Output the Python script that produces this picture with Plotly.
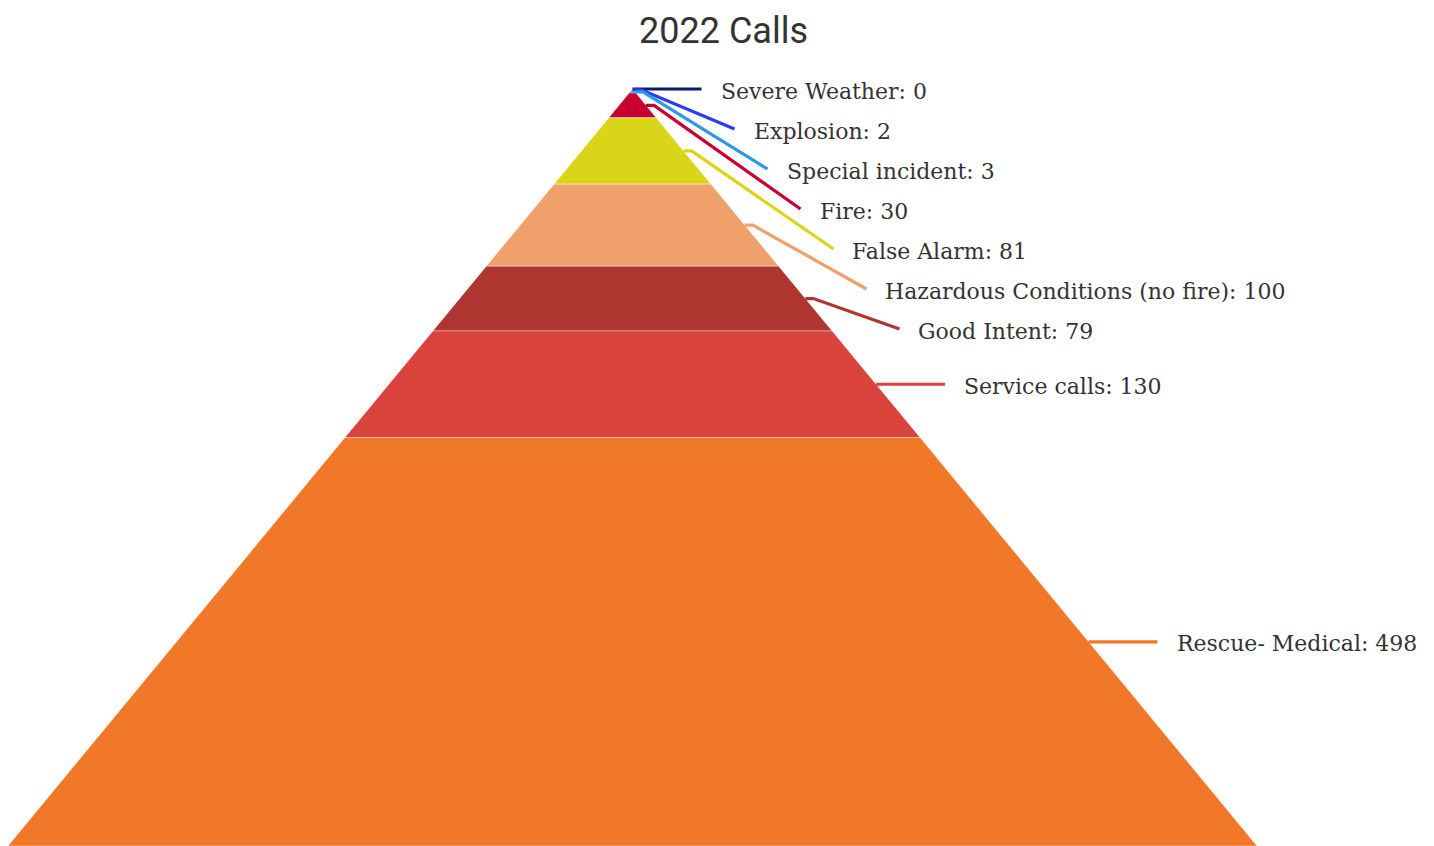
import plotly.graph_objects as go

# ---- data ----
categories = ["Severe Weather", "Explosion", "Special incident", "Fire", "False Alarm",
              "Hazardous Conditions (no fire)", "Good Intent", "Service calls", "Rescue- Medical"]
values = [0, 2, 3, 30, 81, 100, 79, 130, 498]
colors = ["#0b1a6b", "#2a3cf0", "#2b9ae8", "#c8002f", "#dbd51a",
          "#f0a06a", "#ae3530", "#da433c", "#f07828"]
title_text = "2022 Calls"

# ---- layout geometry (page pixels; page body has an 8px margin) ----
OFF = 8
W, H = 1434 - OFF, 846 - OFF
APEX_X, APEX_Y = 632.5 - OFF, 89.0 - OFF
BASE_HALF = 624.5          # half width of pyramid at its base (px)
BASE_Y = 846.0 - OFF       # base of pyramid (px)
LABEL_GAP_PX = 40          # minimum vertical label spacing
CONN_LEN_PX = 69           # horizontal reach of connector beyond the edge
CROOK_PX = 8               # short horizontal crook at connector start
TEXT_PAD_PX = 17

total = sum(values)
py_per_unit = (BASE_Y - APEX_Y) / total
px_per_unit = BASE_HALF / total
y_range = [total + (H - BASE_Y) / py_per_unit, -APEX_Y / py_per_unit]
x_range = [-APEX_X / px_per_unit, (W - APEX_X) / px_per_unit]

fig = go.Figure()

# pyramid segments
cum = 0
mids = []
for name, v, c in zip(categories, values, colors):
    c0, c1 = cum, cum + v
    mids.append((c0 + c1) / 2)
    if v > 0:
        fig.add_trace(go.Scatter(
            x=[-c0, c0, c1, -c1, -c0], y=[c0, c0, c1, c1, c0],
            mode="lines", fill="toself", fillcolor=c,
            line=dict(color="rgba(255,255,255,0.6)", width=0.6),
            hoverinfo="text", text=f"{name}: {v}", showlegend=False))
    cum = c1

# label positions: push down to avoid overlap
gap = LABEL_GAP_PX / py_per_unit
label_y = []
prev = None
for m in mids:
    ly = m if prev is None else max(m, prev + gap)
    label_y.append(ly)
    prev = ly

crook = CROOK_PX / px_per_unit
reach = CONN_LEN_PX / px_per_unit
for name, v, c, m, ly in zip(categories, values, colors, mids, label_y):
    sx = m
    ex = ly + reach
    if abs(ly - m) < 1e-6:
        xs, ys = [sx, ex], [m, ly]
    else:
        xs, ys = [sx, sx + crook, ex], [m, m, ly]
    fig.add_trace(go.Scatter(x=xs, y=ys, mode="lines",
                             line=dict(color=c, width=3.2),
                             hoverinfo="skip", showlegend=False))
    fig.add_annotation(x=ex, y=ly, xref="x", yref="y", text=f"{name}: {v}",
                       showarrow=False, xanchor="left", yanchor="middle",
                       xshift=TEXT_PAD_PX, yshift=-2,
                       font=dict(family="DejaVu Serif", size=22, color="#333333"))

fig.update_layout(
    width=W, height=H,
    margin=dict(l=0, r=0, t=0, b=0),
    paper_bgcolor="white", plot_bgcolor="white",
    title=dict(text=title_text, x=(723.5 - OFF) / W, xanchor="center",
               y=1 - (30 - OFF) / H, yanchor="middle", yref="container",
               font=dict(family="Roboto", size=36, color="#333333")),
    xaxis=dict(range=x_range, visible=False, fixedrange=True),
    yaxis=dict(range=y_range, visible=False, fixedrange=True),
    showlegend=False,
)

fig.write_html("out.html")
